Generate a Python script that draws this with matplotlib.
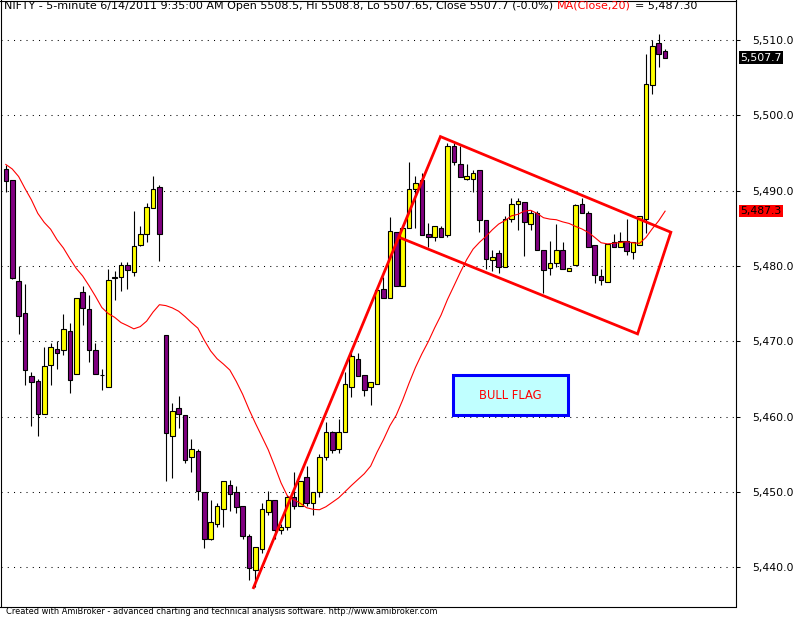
import numpy as np
import pandas as pd
import matplotlib
matplotlib.use("Agg")
import matplotlib.pyplot as plt
from matplotlib.patches import Rectangle
from matplotlib.transforms import blended_transform_factory, ScaledTranslation

### NIFTY 5-minute bars, 6/14/2011
opens = [5492.9, 5491.5, 5478.0, 5473.8, 5465.4, 5464.7, 5460.4, 5466.9, 5469.0, 5468.8,
         5471.4, 5465.7, 5476.6, 5474.3, 5468.8, 5465.6, 5464.0, 5478.4, 5478.6, 5480.2,
         5479.2, 5482.8, 5484.3, 5487.7, 5490.5, 5470.8, 5457.4, 5461.2, 5460.2, 5454.7,
         5455.5, 5450.0, 5443.8, 5445.7, 5447.8, 5451.0, 5450.0, 5448.2, 5444.1, 5439.7,
         5442.5, 5447.4, 5448.9, 5445.0, 5445.3, 5449.4, 5448.2, 5452.0, 5448.5, 5450.0,
         5454.7, 5458.0, 5455.7, 5458.0, 5463.9, 5467.7, 5465.6, 5463.9, 5464.4, 5476.9,
         5475.8, 5484.5, 5477.4, 5485.0, 5490.2, 5491.4, 5484.2, 5483.9, 5485.0, 5484.1,
         5496.0, 5493.6, 5491.6, 5491.6, 5492.7, 5486.1, 5480.8, 5481.7, 5479.9, 5486.2,
         5488.3, 5488.5, 5485.6, 5487.1, 5482.2, 5479.7, 5480.4, 5482.2, 5479.3, 5480.1,
         5488.2, 5487.1, 5482.8, 5478.7, 5477.9, 5483.2, 5482.6, 5483.3, 5481.9, 5482.8,
         5486.2, 5504.1, 5509.6, 5508.5]
highs = [5493.4, 5491.5, 5480.0, 5477.6, 5466.0, 5465.0, 5469.3, 5469.8, 5470.0, 5473.6,
         5472.5, 5475.8, 5477.3, 5476.1, 5469.8, 5466.4, 5479.6, 5479.3, 5480.6, 5480.6,
         5487.3, 5485.3, 5488.4, 5491.9, 5490.8, 5470.8, 5461.8, 5462.8, 5460.2, 5457.0,
         5455.7, 5450.0, 5449.0, 5448.6, 5451.4, 5451.6, 5450.8, 5448.2, 5444.4, 5442.7,
         5448.5, 5450.2, 5448.9, 5445.7, 5449.6, 5452.6, 5451.4, 5453.4, 5450.0, 5455.1,
         5459.3, 5458.1, 5459.7, 5465.9, 5468.9, 5468.5, 5465.6, 5464.6, 5476.8, 5478.5,
         5486.5, 5484.5, 5485.0, 5493.8, 5492.0, 5492.4, 5485.7, 5485.3, 5485.3, 5496.3,
         5496.4, 5496.0, 5493.5, 5492.8, 5492.7, 5486.1, 5482.2, 5482.2, 5486.7, 5489.0,
         5489.1, 5488.5, 5487.5, 5487.3, 5482.2, 5483.4, 5485.6, 5483.2, 5479.7, 5488.3,
         5489.1, 5487.3, 5482.8, 5479.6, 5483.0, 5484.2, 5484.5, 5486.2, 5483.2, 5486.7,
         5508.1, 5510.0, 5510.8, 5508.8]
lows = [5489.8, 5478.3, 5471.0, 5464.2, 5458.8, 5457.4, 5460.4, 5464.2, 5466.3, 5468.2,
        5463.1, 5465.7, 5472.2, 5467.3, 5465.7, 5463.6, 5464.0, 5475.5, 5476.7, 5477.0,
        5478.7, 5482.7, 5483.2, 5487.7, 5480.7, 5451.4, 5451.9, 5458.5, 5453.8, 5452.6,
        5449.0, 5442.6, 5443.6, 5445.4, 5445.3, 5447.5, 5447.2, 5443.7, 5438.3, 5437.4,
        5441.9, 5447.0, 5443.7, 5444.4, 5444.9, 5447.8, 5448.2, 5448.2, 5446.9, 5449.4,
        5454.2, 5455.2, 5455.2, 5458.0, 5462.6, 5465.4, 5462.7, 5461.6, 5464.4, 5475.7,
        5475.8, 5477.3, 5477.3, 5485.0, 5485.1, 5484.1, 5482.5, 5483.3, 5483.9, 5483.8,
        5493.4, 5491.8, 5491.5, 5489.9, 5484.5, 5479.6, 5479.3, 5479.1, 5479.9, 5485.9,
        5484.8, 5481.3, 5484.8, 5482.1, 5476.4, 5478.8, 5479.9, 5479.6, 5479.3, 5480.1,
        5487.0, 5482.5, 5477.8, 5477.5, 5477.9, 5482.5, 5482.6, 5481.5, 5480.9, 5482.8,
        5484.4, 5502.9, 5506.5, 5507.65]
closes = [5491.3, 5478.4, 5473.4, 5466.2, 5464.6, 5460.3, 5466.8, 5469.3, 5468.5, 5471.6,
          5464.9, 5475.8, 5474.5, 5468.8, 5465.7, 5465.6, 5478.1, 5478.5, 5480.2, 5479.5,
          5482.7, 5484.3, 5487.9, 5490.3, 5484.2, 5457.9, 5460.8, 5460.4, 5454.2, 5455.7,
          5450.2, 5443.8, 5446.0, 5448.1, 5451.4, 5449.8, 5448.0, 5444.2, 5439.9, 5442.7,
          5447.7, 5449.0, 5444.9, 5445.4, 5449.3, 5448.1, 5451.4, 5448.5, 5450.0, 5454.6,
          5458.0, 5455.6, 5458.0, 5464.4, 5468.0, 5465.4, 5463.5, 5464.6, 5476.8, 5475.8,
          5484.6, 5477.3, 5485.0, 5490.3, 5491.0, 5484.1, 5483.8, 5485.3, 5483.9, 5495.9,
          5493.8, 5491.8, 5491.9, 5492.3, 5486.1, 5480.9, 5481.2, 5479.9, 5486.2, 5488.2,
          5488.6, 5485.9, 5487.1, 5482.1, 5479.5, 5480.4, 5482.2, 5479.6, 5479.7, 5488.1,
          5487.0, 5482.5, 5478.8, 5478.1, 5483.0, 5482.5, 5483.4, 5482.0, 5483.2, 5486.7,
          5504.2, 5509.2, 5508.1, 5507.7]

# MA(Close,20) for the first 19 bars depends on the previous session
ma_head = [5493.5, 5492.9, 5491.9, 5490.3, 5488.8, 5487.0, 5485.8, 5484.9, 5483.5, 5482.4,
           5481.0, 5479.7, 5478.7, 5477.4, 5476.0, 5474.5, 5473.7, 5473.2, 5472.5]

# hand-drawn flag lines (bar index, price)
flag_x = [38.7, 67.9, 103.9, 98.7, 61.8]
flag_y = [5437.3, 5497.2, 5484.5, 5471.0, 5483.7]

price_ticks = [5440, 5450, 5460, 5470, 5480, 5490, 5500, 5510]

header = "NIFTY - 5-minute 6/14/2011 9:35:00 AM Open 5508.5, Hi 5508.8, Lo 5507.65, Close 5507.7 (-0.0%)"
footer = "Created with AmiBroker - advanced charting and technical analysis software. http://www.amibroker.com"

opens = np.array(opens)
highs = np.array(highs)
lows = np.array(lows)
closes = np.array(closes)
xs = np.arange(len(closes))

ma = pd.Series(closes).rolling(20).mean().to_numpy()
ma[:len(ma_head)] = ma_head

W, H = 796, 618
fig = plt.figure(figsize=(W / 100, H / 100), dpi=100)
ax = fig.add_axes([0.5 / W, 11.5 / H, 735 / W, 606 / H])

### candles
ax.vlines(xs, lows, highs, color="black", linewidth=0.8, zorder=2)
body_bottom = np.minimum(opens, closes)
body_h = np.abs(closes - opens)
colors = ["#FFFF00" if c >= o else "#800080" for o, c in zip(opens, closes)]
ax.bar(xs, body_h, bottom=body_bottom, width=0.72, color=colors,
       edgecolor="black", linewidth=0.8, zorder=3)

### moving average and flag
ax.plot(xs, ma, color="red", linewidth=0.8, zorder=4)
ax.plot(flag_x, flag_y, color="red", linewidth=2.0, solid_joinstyle="miter", zorder=5)

# BULL FLAG note
ax.add_patch(Rectangle((69.9, 5460.25), 17.9, 5.25, facecolor="#C0FFFF",
                       edgecolor="#0000FF", linewidth=2.2, zorder=6))
ax.text(69.9 + 17.9 / 2, 5460.25 + 5.25 / 2, "BULL FLAG", color="red", fontsize=8.3,
        ha="center", va="center", zorder=7)

ax.set_xlim(-0.83, 114.0)
ax.set_ylim(5434.8, 5515.27)

### axes styling
ax.set_xticks([])
ax.yaxis.tick_right()
ax.set_yticks(price_ticks)
ax.set_yticklabels([f"{v:,.1f}" for v in price_ticks])
ax.tick_params(axis="y", direction="out", length=3, width=0.75, pad=8.9,
               labelsize=7.8, colors="black")
ax.grid(axis="y", color="black", linestyle=(0, (1, 5)), linewidth=0.75)
ax.set_axisbelow(True)
for s in ax.spines.values():
    s.set_color("black")
    s.set_linewidth(0.8)

# last values on the price axis
tr = blended_transform_factory(ax.transAxes, ax.transData) + ScaledTranslation(5 / 100, 0, fig.dpi_scale_trans)
ax.text(1.0, closes[-1], f"{closes[-1]:,.1f}", transform=tr, fontsize=7.8, color="white",
        ha="left", va="center", clip_on=False,
        bbox=dict(boxstyle="square,pad=0.12", facecolor="black", edgecolor="none"))
ax.text(1.0, ma[-1], f"{ma[-1]:,.1f}", transform=tr, fontsize=7.8, color="black",
        ha="left", va="center", clip_on=False,
        bbox=dict(boxstyle="square,pad=0.12", facecolor="red", edgecolor="none"))

### title line
t1 = fig.text(4 / W, 1 - 9 / H, header, fontsize=8.0, color="black", ha="left", va="baseline")
a2 = ax.annotate("MA(Close,20)", xy=(1, 0), xycoords=t1, xytext=(3, 0), textcoords="offset points",
                 fontsize=8.0, color="red", ha="left", va="bottom")
ax.annotate(f"= {ma[-1]:,.2f}", xy=(1, 0), xycoords=a2, xytext=(3, 0), textcoords="offset points",
            fontsize=8.0, color="black", ha="left", va="bottom")

fig.text(6 / W, (H - 611.5) / H, footer, fontsize=5.95, color="black", ha="left", va="center")

fig.savefig("out.png", dpi=100)
